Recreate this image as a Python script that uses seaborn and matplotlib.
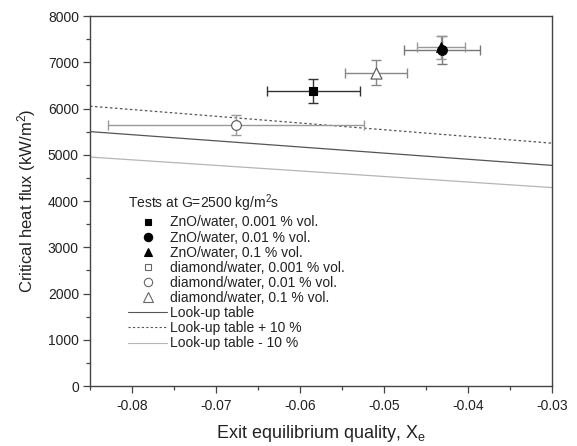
import matplotlib
matplotlib.use("Agg")
import matplotlib.pyplot as plt
from matplotlib.lines import Line2D
from matplotlib.ticker import MultipleLocator
import seaborn as sns
import pandas as pd

# ---- data ----
series = ["ZnO/water, 0.001 % vol.", "ZnO/water, 0.01 % vol.", "ZnO/water, 0.1 % vol.",
          "diamond/water, 0.001 % vol.", "diamond/water, 0.01 % vol.", "diamond/water, 0.1 % vol."]
pt_x = [-0.0584, -0.0431, -0.0432, None, -0.0676, -0.0510]
pt_y = [6380, 7260, 7320, None, 5640, 6770]
pt_xerr = [0.0055, 0.0045, 0.0029, None, 0.0152, 0.0037]
pt_yerr = [255, 300, 250, None, 215, 270]

lut_x = [-0.085, -0.030]
lut_y = [5500, 4770]
lut_plus_y = [6050, 5250]
lut_minus_y = [4950, 4290]

legend_title = "Tests at G=2500 kg/m$^2$s"
line_labels = ["Look-up table", "Look-up table + 10 %", "Look-up table - 10 %"]
x_ticks = [-0.08, -0.07, -0.06, -0.05, -0.04, -0.03]
x_tick_labels = ["-0.08", "-0.07", "-0.06", "-0.05", "-0.04", "-0.03"]

# ---- styles ----
markers = ["s", "o", "^", "s", "o", "^"]
filled = [True, True, True, False, False, False]
msizes = [6, 7, 7, 6, 7, 8]
ecolors = ["#333333", "#777777", "#999999", "#999999", "#9a9a9a", "#888888"]

sns.set_style("ticks")
plt.rcParams["font.family"] = ["Liberation Sans", "DejaVu Sans"]
plt.rcParams["mathtext.default"] = "regular"
plt.rcParams["axes.unicode_minus"] = False

fig = plt.figure(figsize=(5.77, 4.46), dpi=100)
ax = fig.add_axes([90 / 577, 60 / 446, 462 / 577, 370 / 446])

# look-up table lines
sns.lineplot(x=lut_x, y=lut_y, ax=ax, color="#555555", lw=0.9)
sns.lineplot(x=lut_x, y=lut_plus_y, ax=ax, color="#555555", lw=0.9, linestyle=(0, (2, 2)))
sns.lineplot(x=lut_x, y=lut_minus_y, ax=ax, color="#b5b5b5", lw=0.9)

rows = [dict(x=x, y=y, s=s) for x, y, s in zip(pt_x, pt_y, series) if x is not None]
df = pd.DataFrame(rows)

for i, s in enumerate(series):
    if pt_x[i] is None:
        continue
    ax.errorbar(pt_x[i], pt_y[i], xerr=pt_xerr[i], yerr=pt_yerr[i], fmt="none",
                ecolor=ecolors[i], elinewidth=1.0, capsize=3.5, capthick=1.0, zorder=3)
    sub = df[df.s == s]
    sns.scatterplot(data=sub, x="x", y="y", ax=ax, marker=markers[i],
                    s=msizes[i] ** 2,
                    facecolor="black" if filled[i] else "white",
                    edgecolor="black" if filled[i] else "#555555",
                    linewidth=0.8, zorder=4, legend=False)

ax.set_xlim(-0.085, -0.030)
ax.set_ylim(0, 8000)
ax.xaxis.set_major_locator(MultipleLocator(0.01))
ax.xaxis.set_minor_locator(MultipleLocator(0.005))
ax.yaxis.set_major_locator(MultipleLocator(1000))
ax.yaxis.set_minor_locator(MultipleLocator(500))
ax.set_xticks(x_ticks)
ax.set_xticklabels(x_tick_labels)
ax.tick_params(which="major", direction="out", length=5, width=0.9, color="#444444",
               labelsize=10, labelcolor="#222222")
ax.tick_params(which="minor", direction="out", length=3, width=0.9, color="#444444")
ax.tick_params(axis="x", which="major", pad=4.5)
ax.tick_params(axis="y", which="major", pad=3)
for sp in ax.spines.values():
    sp.set_visible(True)
    sp.set_color("#444444")
    sp.set_linewidth(1.0)

ax.set_xlabel("Exit equilibrium quality, X$_e$", fontsize=13, color="#222222", labelpad=7)
ax.set_ylabel("Critical heat flux (kW/m$^2$)", fontsize=12, color="#222222", labelpad=7)

handles = []
for i in range(6):
    handles.append(Line2D([], [], linestyle="none", marker=markers[i],
                          markersize=msizes[i] - 1,
                          markerfacecolor="black" if filled[i] else "white",
                          markeredgecolor="black" if filled[i] else "#666666",
                          markeredgewidth=0.8))
handles.append(Line2D([], [], color="#555555", lw=0.8))
handles.append(Line2D([], [], color="#555555", lw=0.8, linestyle=(0, (2, 2))))
handles.append(Line2D([], [], color="#b5b5b5", lw=0.8))

leg = ax.legend(handles, series + line_labels, title=legend_title, loc="upper left",
                bbox_to_anchor=(0.056, 0.556), frameon=False, fontsize=10,
                title_fontsize=10, handlelength=2.8, handletextpad=0.2,
                labelspacing=0.08, borderpad=0.4, alignment="left")
for t in leg.get_texts():
    t.set_color("#222222")
leg.get_title().set_color("#222222")

fig.savefig("out.png", dpi=100)
